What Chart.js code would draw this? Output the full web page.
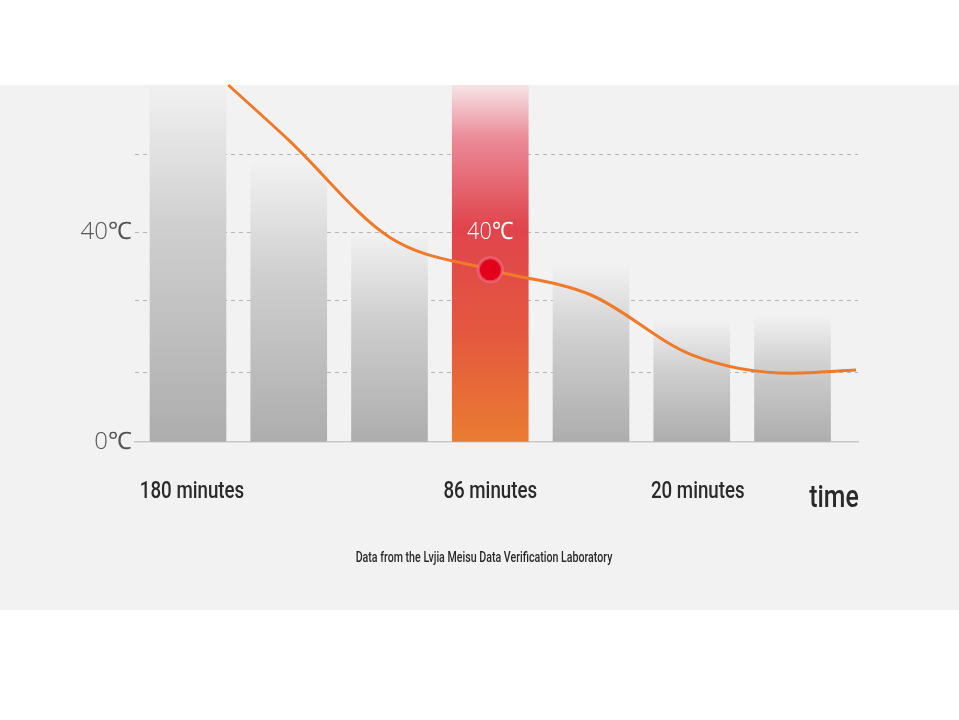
<!DOCTYPE html>
<html>
<head>
<meta charset="utf-8">
<script src="https://cdn.jsdelivr.net/npm/chart.js@4/dist/chart.umd.min.js"></script>
<style>
  html, body { margin: 0; padding: 0; background: #fff; }
  #wrap { width: 959px; height: 720px; }
</style>
</head>
<body>
<div id="wrap"><canvas id="c"></canvas></div>
<script>
// bar positions (1..7) and heights in °C
const barPos = [1, 2, 3, 4, 5, 6, 7];
const barValues = [68, 53, 39.5, 68, 33.5, 23, 24];
const highlightIndex = 3;

// cooling curve (x in bar units, y in °C)
const curveX = [1.4, 2, 3, 4, 5, 6, 7, 7.63];
const curveY = [68, 57.5, 39, 32.8, 28, 16.6, 13.1, 13.7];
const markerIndex = 3;

const gridValues = [0, 13.3, 26.9, 40, 54.7];
const yLabels = { 0: "0℃", 40: "40℃" };
const xTickPos = [1, 4, 6];
const xTickLabels = ["180 minutes", "86 minutes", "20 minutes"];

const narrow = "'Roboto', sans-serif";

function barColor(ctx) {
  const chart = ctx.chart;
  const area = chart.chartArea;
  if (!area) return "#bbb";
  const y = chart.scales.y;
  const top = y.getPixelForValue(barValues[ctx.dataIndex]);
  const g = chart.ctx.createLinearGradient(0, area.bottom, 0, top);
  if (ctx.dataIndex === highlightIndex) {
    g.addColorStop(0, "#ea7c32");
    g.addColorStop(0.3, "#e4583e");
    g.addColorStop(0.6, "#e0444c");
    g.addColorStop(0.85, "#eb8a98");
    g.addColorStop(1, "#f6e4e6");
  } else {
    g.addColorStop(0, "#adadad");
    g.addColorStop(0.6, "#cfcfcf");
    g.addColorStop(1, "#f1f1f1");
  }
  return g;
}

// condensed look: squeeze text horizontally
function squeezed(c, text, x, y, sx) {
  c.save();
  c.translate(x, y);
  c.scale(sx, 1);
  c.fillText(text, 0, 0);
  c.restore();
}

const decor = {
  id: "decor",
  beforeDraw(chart) {
    const c = chart.ctx;
    c.save();
    c.fillStyle = "#f2f2f2";
    c.fillRect(0, 85, chart.width, 525);
    c.restore();
  },
  afterDraw(chart) {
    const c = chart.ctx;
    const x = chart.scales.x, y = chart.scales.y;
    c.save();
    c.fillStyle = "#2a2a2a";
    c.textAlign = "center";
    c.textBaseline = "middle";
    c.font = "500 24px " + narrow;
    const offs = [4, 0, 6];
    xTickPos.forEach((p, i) => squeezed(c, xTickLabels[i], x.getPixelForValue(p) + offs[i], 492, 0.78));
    c.font = "500 31px " + narrow;
    squeezed(c, "time", 834, 499, 0.8);
    c.font = "500 14px " + narrow;
    squeezed(c, "Data from the Lvjia Meisu Data Verification Laboratory", 484, 558, 0.76);
    c.fillStyle = "#ffffff";
    c.font = "300 24px 'Open Sans', sans-serif";
    squeezed(c, "40℃", x.getPixelForValue(barPos[highlightIndex]), y.getPixelForValue(40), 0.9);
    c.restore();
  }
};

new Chart(document.getElementById("c"), {
  data: {
    datasets: [
      {
        type: "line",
        data: curveX.map((v, i) => ({ x: v, y: curveY[i] })),
        borderColor: "#ee7a2a",
        borderWidth: 3,
        cubicInterpolationMode: "monotone",
        pointRadius: curveX.map((v, i) => (i === markerIndex ? 12 : 0)),
        pointBackgroundColor: "#e3001b",
        pointBorderColor: "rgba(240,120,140,0.6)",
        pointBorderWidth: 3,
        clip: false,
        order: 0
      },
      {
        type: "bar",
        data: barPos.map((v, i) => ({ x: v, y: barValues[i] })),
        backgroundColor: barColor,
        barThickness: 76,
        order: 1
      }
    ]
  },
  options: {
    responsive: true,
    maintainAspectRatio: false,
    animation: false,
    layout: { padding: { top: 85, bottom: 278, right: 101, left: 0 } },
    plugins: { legend: { display: false }, tooltip: { enabled: false } },
    scales: {
      x: {
        type: "linear",
        offset: false,
        min: 0.474,
        max: 7.65,
        grid: { display: false },
        border: { color: "#c8c8c8", width: 1.5 },
        ticks: { display: false },
        afterFit(s) { s.height = 0; }
      },
      y: {
        min: 0,
        max: 68,
        afterBuildTicks(s) { s.ticks = gridValues.map(v => ({ value: v })); },
        afterFit(s) { s.width = 135; },
        border: { display: false, dash: [4, 4] },
        grid: {
          color: (ctx) => (ctx.tick && ctx.tick.value === 0 ? "rgba(0,0,0,0)" : "#b5b5b5"),
          drawTicks: false
        },
        ticks: {
          padding: 3,
          color: "#555",
          font: { family: "'Open Sans', sans-serif", size: 24, weight: 300 },
          callback: (v) => yLabels[v] || ""
        }
      }
    }
  },
  plugins: [decor]
});
</script>
</body>
</html>
